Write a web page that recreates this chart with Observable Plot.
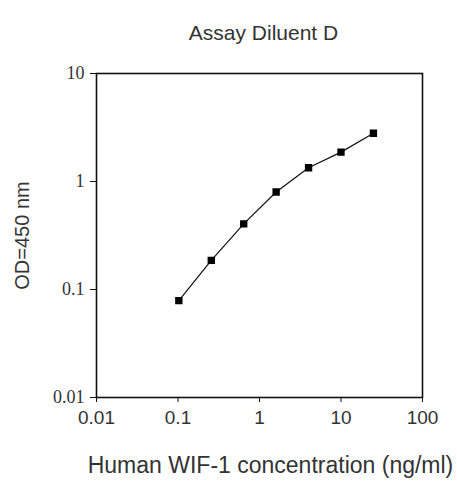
<!DOCTYPE html>
<html>
<head>
<meta charset="utf-8">
<script src="https://cdn.jsdelivr.net/npm/d3@7"></script>
<script src="https://cdn.jsdelivr.net/npm/@observablehq/plot@0.6"></script>
<style>
  html, body { margin: 0; padding: 0; background: #fff; }
  #chart svg { display: block; }
</style>
</head>
<body>
<div id="chart"></div>
<script>
const concentration = [0.1024, 0.256, 0.64, 1.6, 4, 10, 25];
const od = [0.079, 0.186, 0.405, 0.80, 1.34, 1.87, 2.80];
const xTicks = [0.01, 0.1, 1, 10, 100];
const yTicks = [0.01, 0.1, 1, 10];
const title = "Assay Diluent D";
const xLabel = "Human WIF-1 concentration (ng/ml)";
const yLabel = "OD=450 nm";

const data = concentration.map((c, i) => ({x: c, y: od[i]}));
const sans = "Liberation Sans, Arial, sans-serif";
const serif = "Liberation Serif, Times New Roman, serif";

const chart = Plot.plot({
  width: 457,
  height: 485,
  marginTop: 73,
  marginBottom: 88,
  marginLeft: 96,
  marginRight: 35,
  style: {background: "#fff", color: "#222"},
  x: {type: "log", domain: [0.01, 100]},
  y: {type: "log", domain: [0.01, 10]},
  marks: [
    Plot.frame({stroke: "#111", strokeWidth: 1.6}),
    Plot.axisX({ticks: xTicks, tickFormat: d => String(d), tickSize: 5, tickPadding: 8, fontSize: 19, fontFamily: sans, label: null, stroke: "#111", fill: "#333"}),
    Plot.axisY({ticks: yTicks, tickFormat: d => String(d), tickSize: 6, tickPadding: 6, fontSize: 18, fontFamily: serif, label: null, stroke: "#111", fill: "#333"}),
    Plot.line(data, {x: "x", y: "y", stroke: "#111", strokeWidth: 1.2}),
    Plot.dot(data, {x: "x", y: "y", symbol: "square", r: 3.3, fill: "#000", stroke: "#000"}),
    Plot.text([title], {frameAnchor: "top", textAnchor: "middle", dx: 4, dy: -48, fontSize: 21, fontFamily: sans, fill: "#333"}),
    Plot.text([xLabel], {frameAnchor: "bottom", textAnchor: "middle", dy: 75, dx: 11, fontSize: 23, fontFamily: sans, fill: "#333"}),
    Plot.text([yLabel], {frameAnchor: "left", textAnchor: "middle", dx: -74, dy: 0, rotate: -90, fontSize: 20, fontFamily: sans, fill: "#333"})
  ]
});
document.getElementById("chart").appendChild(chart);
</script>
</body>
</html>
